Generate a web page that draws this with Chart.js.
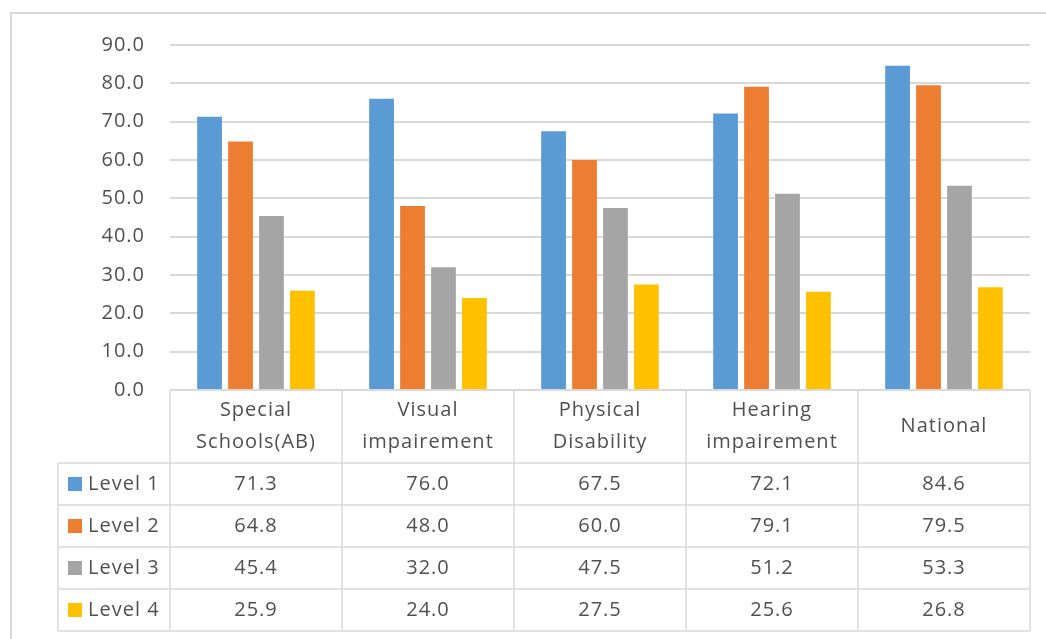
<!DOCTYPE html>
<html lang="en">
<head>
    <meta charset="UTF-8">
    <title>Levels by school type</title>
    <script src="https://cdn.jsdelivr.net/npm/chart.js"></script>
    <style>
        html, body { margin: 0; padding: 0; background: #fff; }
        canvas { display: block; }
    </style>
    <script>
        // categories (two-line labels, as in the data table header)
        const categories = [
            ['Special', 'Schools(AB)'],
            ['Visual', 'impairement'],
            ['Physical', 'Disability'],
            ['Hearing', 'impairement'],
            ['National']
        ];
        const seriesNames = ['Level 1', 'Level 2', 'Level 3', 'Level 4'];
        const level1 = [71.3, 76.0, 67.5, 72.1, 84.6];
        const level2 = [64.8, 48.0, 60.0, 79.1, 79.5];
        const level3 = [45.4, 32.0, 47.5, 51.2, 53.3];
        const level4 = [25.9, 24.0, 27.5, 25.6, 26.8];
        const colors = ['#5B9BD5', '#ED7D31', '#A5A5A5', '#FFC000'];

        const FONT = '"Open Sans", "Liberation Sans", sans-serif';
        const TEXT = '#505050';
        const LINE = '#d9d9d9';

        // data table drawn under the plot, lined up with the x scale
        const tablePlugin = {
            id: 'dataTable',
            beforeDraw(chart) {
                const ctx = chart.ctx;
                ctx.letterSpacing = '1px'; // text in the picture runs a bit wide
                // outer chart border (only top/left visible in the picture)
                ctx.save();
                ctx.strokeStyle = LINE;
                ctx.lineWidth = 2;
                ctx.strokeRect(11, 13, chart.width + 20, chart.height + 20);
                ctx.restore();
            },
            afterDraw(chart) {
                const ctx = chart.ctx;
                const area = chart.chartArea;
                const xs = chart.scales.x;
                const n = categories.length;
                const colW = (area.right - area.left) / n;
                const top = area.bottom;
                const headH = 73;
                const rowH = 42;
                const legLeft = 58;
                const bottom = top + headH + rowH * seriesNames.length;
                const all = [level1, level2, level3, level4];

                ctx.save();
                ctx.strokeStyle = LINE;
                ctx.lineWidth = 1.5;
                ctx.beginPath();
                // horizontal lines
                ctx.moveTo(area.left, top); ctx.lineTo(area.right, top);
                for (let r = 0; r <= seriesNames.length; r++) {
                    const y = top + headH + r * rowH;
                    ctx.moveTo(legLeft, y); ctx.lineTo(area.right, y);
                }
                // vertical lines
                ctx.moveTo(legLeft, top + headH); ctx.lineTo(legLeft, bottom);
                for (let i = 0; i <= n; i++) {
                    const x = area.left + i * colW;
                    ctx.moveTo(x, top); ctx.lineTo(x, bottom);
                }
                ctx.stroke();

                ctx.fillStyle = TEXT;
                ctx.font = '20px ' + FONT;
                ctx.letterSpacing = '1px';
                ctx.textAlign = 'center';
                ctx.textBaseline = 'middle';
                // header
                categories.forEach((lab, i) => {
                    const cx = xs.getPixelForValue(i);
                    const cy = top + headH / 2;
                    if (lab.length === 1) {
                        ctx.fillText(lab[0], cx, cy);
                    } else {
                        ctx.fillText(lab[0], cx, cy - 16);
                        ctx.fillText(lab[1], cx, cy + 16);
                    }
                });
                // rows
                seriesNames.forEach((name, r) => {
                    const cy = top + headH + r * rowH + rowH / 2;
                    ctx.fillStyle = colors[r];
                    ctx.fillRect(legLeft + 10, cy - 7, 14, 14);
                    ctx.fillStyle = TEXT;
                    ctx.textAlign = 'left';
                    ctx.fillText(name, legLeft + 30, cy);
                    ctx.textAlign = 'center';
                    all[r].forEach((v, i) => {
                        ctx.fillText(v.toFixed(1), xs.getPixelForValue(i), cy);
                    });
                });
                ctx.restore();
            }
        };

        document.addEventListener('DOMContentLoaded', function () {
            const ctx = document.getElementById('chart').getContext('2d');
            const values = [level1, level2, level3, level4];
            new Chart(ctx, {
                type: 'bar',
                data: {
                    labels: categories,
                    datasets: seriesNames.map((name, i) => ({
                        label: name,
                        data: values[i],
                        backgroundColor: colors[i],
                        borderWidth: 0,
                        categoryPercentage: 0.72,
                        barPercentage: 0.8
                    }))
                },
                options: {
                    responsive: false,
                    animation: false,
                    layout: { padding: { left: 0, right: 16, top: 45, bottom: 249 } },
                    plugins: {
                        legend: { display: false },
                        tooltip: { enabled: false }
                    },
                    scales: {
                        x: { display: false },
                        y: {
                            min: 0,
                            max: 90,
                            afterFit(scale) { scale.width = 170; },
                            border: { display: false },
                            grid: { color: LINE, lineWidth: 2, drawTicks: false },
                            ticks: {
                                stepSize: 10,
                                padding: 25,
                                color: TEXT,
                                font: { family: FONT, size: 20 },
                                callback: v => v.toFixed(1)
                            }
                        }
                    }
                },
                plugins: [tablePlugin]
            });
        });
    </script>
</head>
<body>
    <canvas id="chart" width="1046" height="639"></canvas>
</body>
</html>
